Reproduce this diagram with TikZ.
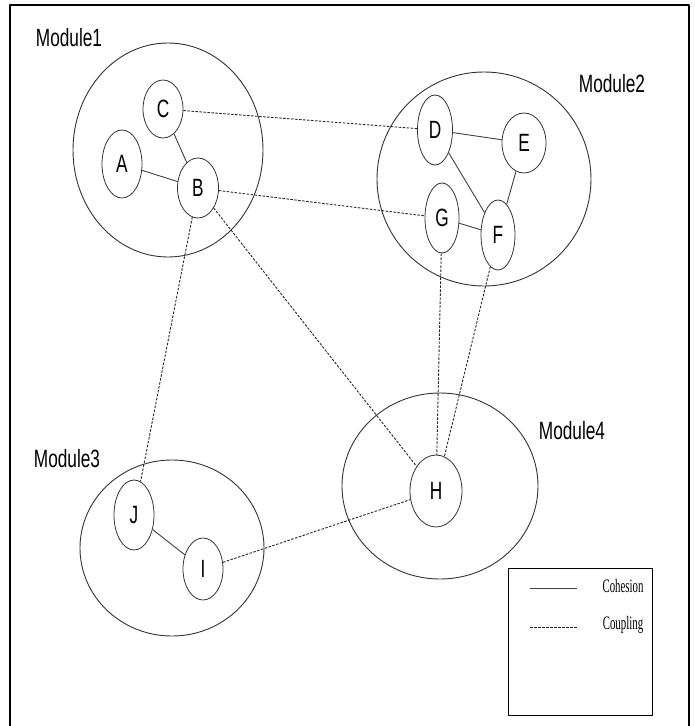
\documentclass[tikz,border=0pt]{standalone}
\usepackage{fontspec}
\usetikzlibrary{shapes.geometric}
\newfontfamily\modfont[FakeStretch=0.69]{Liberation Sans}
\newfontfamily\legfont[FakeStretch=0.57]{Liberation Serif}
\tikzset{
  module/.style={draw=black!80, ellipse, inner sep=0pt, line width=0.9pt},
  unit/.style={draw=black!80, ellipse, inner sep=0pt, line width=0.8pt, font=\modfont\fontsize{25}{25}\selectfont},
  modlabel/.style={font=\modfont\fontsize{25}{25}\selectfont},
  cohesion/.style={draw=black!75, line width=0.9pt},
  coupling/.style={draw=black!85, line width=0.9pt, dash pattern=on 2.5pt off 1.5pt}
}
\begin{document}
\begin{tikzpicture}[x=1pt, y=-1pt, line join=round]
	\useasboundingbox (0,0) rectangle (694,726);
	\draw[line width=2pt] (10,726)--(10,5)--(689,5)--(689,726);
	% modules
	\node[module, minimum width=190pt, minimum height=214pt] (m1) at (168,150) {};
	\node[module, minimum width=214pt, minimum height=214pt] (m2) at (484,179) {};
	\node[module, minimum width=184pt, minimum height=176pt] (m3) at (172,548) {};
	\node[module, minimum width=196pt, minimum height=186pt] (m4) at (440,486) {};
	\node[modlabel] (l1) at (69,38) {Module1};
	\node[modlabel] (l2) at (612,84) {Module2};
	\node[modlabel] (l3) at (67,459) {Module3};
	\node[modlabel] (l4) at (572,431) {Module4};
	% units
	\node[unit, minimum width=40pt, minimum height=58pt] (C) at (163,109) {C};
	\node[unit, minimum width=40pt, minimum height=68pt] (A) at (122,164) {A};
	\node[unit, minimum width=41pt, minimum height=60pt] (B) at (198,188) {B};
	\node[unit, minimum width=35pt, minimum height=70pt] (D) at (435,130) {D};
	\node[unit, minimum width=44pt, minimum height=60pt] (E) at (524,143) {E};
	\node[unit, minimum width=34pt, minimum height=70pt] (G) at (442,218) {G};
	\node[unit, minimum width=34pt, minimum height=70pt] (F) at (498,235) {F};
	\node[unit, minimum width=40pt, minimum height=70pt] (J) at (134,515) {J};
	\node[unit, minimum width=40pt, minimum height=62pt] (I) at (203,569) {I};
	\node[unit, minimum width=52pt, minimum height=72pt] (H) at (436,491) {H};
	% cohesion
	\draw[cohesion] (A)--(B) (C)--(B) (D)--(E) (D)--(F) (E)--(F) (G)--(F) (J)--(I);
	% coupling
	\draw[coupling] (C)--(D) (B)--(G) (B)--(J) (B)--(H) (G)--(H) (F)--(H) (I)--(H);
	% legend
	\draw[line width=0.7pt] (508,568) rectangle (652,715);
	\coordinate (c1) at (530,588); \coordinate (c2) at (577,588);
	\coordinate (d1) at (530,627); \coordinate (d2) at (577,627);
	\draw[cohesion] (c1)--(c2);
	\draw[coupling] (d1)--(d2);
	\node[font=\legfont\fontsize{19}{19}\selectfont] (t1) at (623,586) {Cohesion};
	\node[font=\legfont\fontsize{19}{19}\selectfont] (t2) at (623,625) {Coupling};
\end{tikzpicture}
\end{document}
